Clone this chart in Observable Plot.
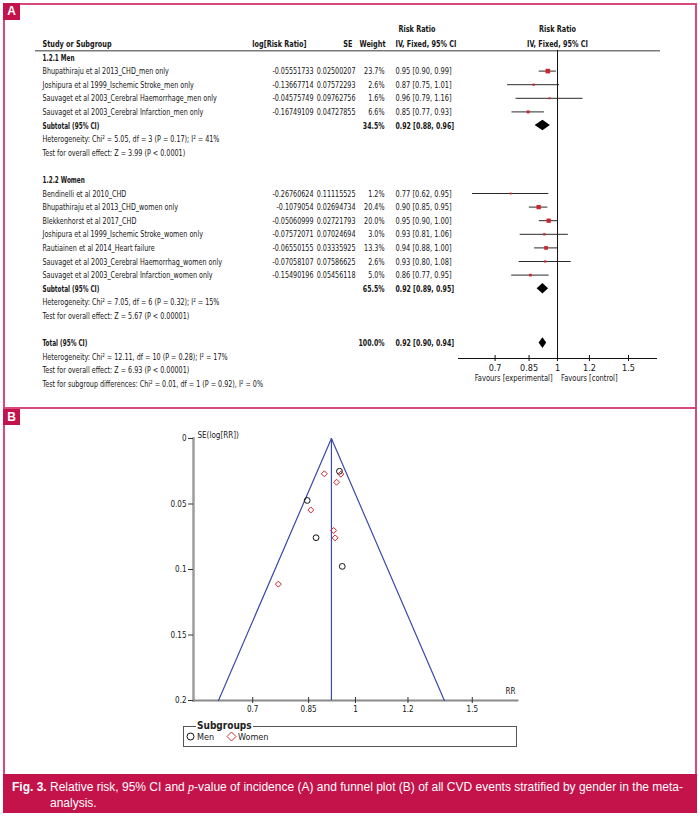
<!DOCTYPE html>
<html>
<head>
<meta charset="utf-8">
<script src="https://cdn.jsdelivr.net/npm/d3@7"></script>
<script src="https://cdn.jsdelivr.net/npm/@observablehq/plot@0.6"></script>
<style>
html,body{margin:0;padding:0;background:#fff;}
body{width:700px;height:816px;position:relative;overflow:hidden;}
#panelA,#panelB{position:absolute;left:0;}
#panelA{top:0;}
#panelB{top:408px;}
.border{position:absolute;left:3px;top:3px;width:694px;height:810px;box-sizing:border-box;border:2px solid #d6497a;}
.divider{position:absolute;left:3px;top:407px;width:694px;height:2px;background:#d6497a;}
.tag{position:absolute;left:3px;width:17px;height:17px;background:#c4124a;color:#fff;font:bold 12px "Liberation Sans",Arial,sans-serif;text-align:center;line-height:17px;}
.caption{position:absolute;left:3px;top:774px;width:694px;height:39px;background:#c4124a;color:#fff;font:12px "Liberation Sans",Arial,sans-serif;line-height:16px;}
.legend{position:absolute;left:183px;top:726px;width:334px;height:21px;box-sizing:border-box;border:1px solid #555;font:9px "DejaVu Sans Condensed",sans-serif;color:#222;}
</style>
</head>
<body>
<div id="panelA"></div>
<div id="panelB"></div>
<div class="border"></div>
<div class="divider"></div>
<div class="tag" style="top:3px">A</div>
<div class="tag" style="top:409px;height:16px;line-height:16px">B</div>
<div class="legend">
  <span style="position:absolute;left:12px;top:-7px;background:#fff;font-weight:bold;font-size:10px;padding:0 1px">Subgroups</span>
  <svg style="position:absolute;left:0;top:0" width="332" height="19">
    <circle cx="6.5" cy="9.5" r="3.5" fill="none" stroke="#111" stroke-width="1"/>
    <path d="M47.5,5 L52,9.5 L47.5,14 L43,9.5 Z" fill="none" stroke="#d2303a" stroke-width="1"/>
  </svg>
  <span style="position:absolute;left:13px;top:5px">Men</span>
  <span style="position:absolute;left:54px;top:5px">Women</span>
</div>
<div class="caption">
  <div style="position:absolute;left:9px;top:5px;font-weight:bold">Fig. 3.</div>
  <div style="position:absolute;left:47px;top:5px;width:645px">Relative risk, 95% CI and <i style="font-family:'Liberation Serif',serif">p</i>-value of incidence (A) and funnel plot (B) of all CVD events stratified by gender in the meta-<br>analysis.</div>
</div>
<script>
// ---------- DATA ----------
const groupLabels = ["1.2.1 Men", "1.2.2 Women"];

const menStudies = ["Bhupathiraju et al 2013_CHD_men only", "Joshipura et al 1999_Ischemic Stroke_men only", "Sauvaget et al 2003_Cerebral Haemorrhage_men only", "Sauvaget et al 2003_Cerebral Infarction_men only"];
const menLogRR = [-0.05551733, -0.13667714, -0.04575749, -0.16749109];
const menSE = [0.02500207, 0.07572293, 0.09762756, 0.04727855];
const menWeight = [23.7, 2.6, 1.6, 6.6];
const menCI = ["0.95 [0.90, 0.99]", "0.87 [0.75, 1.01]", "0.96 [0.79, 1.16]", "0.85 [0.77, 0.93]"];

const womenStudies = ["Bendinelli et al 2010_CHD", "Bhupathiraju et al 2013_CHD_women only", "Blekkenhorst et al 2017_CHD", "Joshipura et al 1999_Ischemic Stroke_women only", "Rautiainen et al 2014_Heart failure", "Sauvaget et al 2003_Cerebral Haemorrhag_women only", "Sauvaget et al 2003_Cerebral Infarction_women only"];
const womenLogRR = [-0.26760624, -0.1079054, -0.05060999, -0.07572071, -0.06550155, -0.07058107, -0.15490196];
const womenSE = [0.11115525, 0.02694734, 0.02721793, 0.07024694, 0.03335925, 0.07586625, 0.05456118];
const womenWeight = [1.2, 20.4, 20.0, 3.0, 13.3, 2.6, 5.0];
const womenCI = ["0.77 [0.62, 0.95]", "0.90 [0.85, 0.95]", "0.95 [0.90, 1.00]", "0.93 [0.81, 1.06]", "0.94 [0.88, 1.00]", "0.93 [0.80, 1.08]", "0.86 [0.77, 0.95]"];

const pooledLabels = ["Subtotal (95% CI)", "Subtotal (95% CI)", "Total (95% CI)"];
const pooledRR = [0.92, 0.92, 0.92];
const pooledLo = [0.88, 0.89, 0.90];
const pooledHi = [0.96, 0.95, 0.94];
const pooledWeight = ["34.5%", "65.5%", "100.0%"];
const pooledCI = ["0.92 [0.88, 0.96]", "0.92 [0.89, 0.95]", "0.92 [0.90, 0.94]"];

const menStats = ["Heterogeneity: Chi\u00B2 = 5.05, df = 3 (P = 0.17); I\u00B2 = 41%", "Test for overall effect: Z = 3.99 (P < 0.0001)"];
const womenStats = ["Heterogeneity: Chi\u00B2 = 7.05, df = 6 (P = 0.32); I\u00B2 = 15%", "Test for overall effect: Z = 5.67 (P < 0.00001)"];
const totalStats = ["Heterogeneity: Chi\u00B2 = 12.11, df = 10 (P = 0.28); I\u00B2 = 17%", "Test for overall effect: Z = 6.93 (P < 0.00001)", "Test for subgroup differences: Chi\u00B2 = 0.01, df = 1 (P = 0.92), I\u00B2 = 0%"];

const headerCols = ["Study or Subgroup", "log[Risk Ratio]", "SE", "Weight", "IV, Fixed, 95% CI", "IV, Fixed, 95% CI"];
const headerTop = ["Risk Ratio", "Risk Ratio"];
const favours = ["Favours [experimental]", "Favours [control]"];

const rrTicks = [0.7, 0.85, 1, 1.2, 1.5];
const seTicks = [0, 0.05, 0.1, 0.15, 0.2];
const funnelSE = [0, 0.2];
const subgroupNames = ["Men", "Women"];

// ---------- BUILD ROWS ----------
const FONT = '"DejaVu Sans Condensed","DejaVu Sans",sans-serif';
const RED = "#cf2430", BLUE = "#3b4ba6", INK = "#161616";

const studies = [], boldLines = [], plainLines = [], pooled = [];
let line = 0;
function group(label, names, logs, ses, ws, cis, pIdx, stats) {
  boldLines.push({i: line++, t: label});
  names.forEach((n, k) => studies.push({i: line++, name: n, log: logs[k], se: ses[k], w: ws[k], ci: cis[k]}));
  pooled.push({i: line++, k: pIdx});
  stats.forEach(s => plainLines.push({i: line++, t: s}));
  line++;
}
group(groupLabels[0], menStudies, menLogRR, menSE, menWeight, menCI, 0, menStats);
group(groupLabels[1], womenStudies, womenLogRR, womenSE, womenWeight, womenCI, 1, womenStats);
pooled.push({i: line++, k: 2});
totalStats.forEach(s => plainLines.push({i: line++, t: s}));
studies.forEach(d => { d.rr = Math.exp(d.log); d.lo = Math.exp(d.log - 1.96 * d.se); d.hi = Math.exp(d.log + 1.96 * d.se); d.wTxt = d.w.toFixed(1) + "%"; });
pooled.forEach(p => { p.label = pooledLabels[p.k]; p.rr = pooledRR[p.k]; p.lo = pooledLo[p.k]; p.hi = pooledHi[p.k]; p.wTxt = pooledWeight[p.k]; p.ci = pooledCI[p.k]; });
const diamonds = pooled.flatMap(p => [
  {z: p.i, y: p.i - 0.39, x1: p.rr, x2: p.rr},
  {z: p.i, y: p.i, x1: p.lo, x2: p.hi},
  {z: p.i, y: p.i + 0.39, x1: p.rr, x2: p.rr}
]);

// horizontal squeeze of text (about its anchor) to mimic the narrow typeface of the original
function squeeze(svg, tag, s) {
  svg.querySelectorAll(`g[aria-description="${tag}"] text`).forEach(t => {
    const tr = t.getAttribute("transform") || "";
    t.setAttribute("transform", `${tr} scale(${s},1)`);
  });
}

// ---------- PANEL A: forest plot ----------
const FL = 458, FR = 656, FT = 50, FB = 358, AH = 408;
const col = {name: 42, log: 313, se: 355, weight: 384, ci: 395};
const fs = 9.4;
const txt = (data, opts) => Plot.text(data, {frameAnchor: "left", fontSize: fs, fill: INK, ...opts});
const hdr = (t, opts) => Plot.text([t], {fontWeight: "bold", fontSize: 9.4, fill: INK, ariaDescription: "hdr", ...opts});

const plotA = Plot.plot({
  width: 700, height: AH,
  marginLeft: FL, marginRight: 700 - FR, marginTop: FT, marginBottom: AH - FB,
  style: {background: "transparent", fontFamily: FONT, color: INK},
  x: {type: "log", domain: [0.568, 1.76]},
  y: {type: "linear", domain: [0, 24], range: [57, 383.4], axis: null},
  r: {type: "sqrt", domain: [0, 24], range: [0.6, 2.6]},
  marks: [
    // header
    hdr(headerTop[0], {frameAnchor: "left", dx: col.ci - FL + 3, textAnchor: "start", y: [-2.1]}),
    hdr(headerTop[1], {frameAnchor: "middle", textAnchor: "middle", y: [-2.1]}),
    hdr(headerCols[0], {frameAnchor: "left", dx: col.name - FL, textAnchor: "start", y: [-0.97]}),
    hdr(headerCols[1], {frameAnchor: "left", dx: 306 - FL, textAnchor: "end", y: [-0.97]}),
    hdr(headerCols[2], {frameAnchor: "left", dx: 352 - FL, textAnchor: "end", y: [-0.97]}),
    hdr(headerCols[3], {frameAnchor: "left", dx: 385 - FL, textAnchor: "end", y: [-0.97]}),
    hdr(headerCols[4], {frameAnchor: "left", dx: col.ci - FL, textAnchor: "start", y: [-0.97]}),
    hdr(headerCols[5], {frameAnchor: "middle", textAnchor: "middle", y: [-0.97]}),
    Plot.ruleY([-0.5], {stroke: "#7a7a7a", strokeWidth: 1.6, insetLeft: -(FL - 35), insetRight: -4}),
    // group labels and stats
    txt(boldLines, {y: "i", text: "t", dx: col.name - FL, textAnchor: "start", fontWeight: "bold", ariaDescription: "bold"}),
    txt(plainLines, {y: "i", text: "t", dx: col.name - FL, textAnchor: "start", ariaDescription: "names"}),
    // study rows
    txt(studies, {y: "i", text: "name", dx: col.name - FL, textAnchor: "start", ariaDescription: "names"}),
    txt(studies, {y: "i", text: d => d.log.toString(), dx: col.log - FL, textAnchor: "end", ariaDescription: "nums"}),
    txt(studies, {y: "i", text: d => d.se.toString(), dx: col.se - FL, textAnchor: "end", ariaDescription: "nums"}),
    txt(studies, {y: "i", text: "wTxt", dx: col.weight - FL, textAnchor: "end", ariaDescription: "nums"}),
    txt(studies, {y: "i", text: "ci", dx: col.ci - FL, textAnchor: "start", ariaDescription: "ci"}),
    // pooled rows
    txt(pooled, {y: "i", text: "label", dx: col.name - FL, textAnchor: "start", fontWeight: "bold", ariaDescription: "bold"}),
    txt(pooled, {y: "i", text: "wTxt", dx: col.weight - FL, textAnchor: "end", fontWeight: "bold", ariaDescription: "boldnum"}),
    txt(pooled, {y: "i", text: "ci", dx: col.ci - FL, textAnchor: "start", fontWeight: "bold", ariaDescription: "boldnum"}),
    // graph
    Plot.ruleX([1], {stroke: "#111", strokeWidth: 1}),
    Plot.ruleY(studies, {y: "i", x1: "lo", x2: "hi", stroke: "#2a2a2a", strokeWidth: 1}),
    Plot.dot(studies, {x: "rr", y: "i", r: "w", symbol: "square", fill: RED, stroke: null}),
    Plot.areaX(diamonds, {y: "y", x1: "x1", x2: "x2", z: "z", fill: "#000", curve: "linear"}),
    Plot.frame({anchor: "bottom", stroke: "#111", strokeWidth: 1}),
    Plot.ruleX(rrTicks, {insetTop: FB - FT - 3, stroke: "#111"}),
    Plot.axisX({ticks: rrTicks, tickFormat: d => String(d), tickSize: 3, tickPadding: 3, fontSize: 9, label: null, stroke: "#111", fill: INK}),
    Plot.text([{x: 1, t: favours[0]}], {x: "x", text: "t", frameAnchor: "bottom", dy: 22, dx: -5, textAnchor: "end", fontSize: 8.6, fill: INK, ariaDescription: "fav"}),
    Plot.text([{x: 1, t: favours[1]}], {x: "x", text: "t", frameAnchor: "bottom", dy: 22, dx: 3.5, textAnchor: "start", fontSize: 8.6, fill: INK, ariaDescription: "fav"})
  ]
});
document.getElementById("panelA").appendChild(plotA);
squeeze(plotA, "names", 0.76);
squeeze(plotA, "nums", 0.76);
squeeze(plotA, "ci", 0.79);
squeeze(plotA, "bold", 0.68);
squeeze(plotA, "boldnum", 0.74);
squeeze(plotA, "hdr", 0.77);
squeeze(plotA, "fav", 0.87);

// ---------- PANEL B: funnel plot ----------
const BH = 362, BT = 30, BB = 70;
const pooledTotal = pooledRR[2];
const funnel = [-1, 1].flatMap(s => funnelSE.map(se => ({side: s, se, rr: Math.exp(Math.log(pooledTotal) + s * 1.96 * se)})));
const menPts = menLogRR.map((l, k) => ({rr: Math.exp(l), se: menSE[k], g: subgroupNames[0]}));
const womenPts = womenLogRR.map((l, k) => ({rr: Math.exp(l), se: womenSE[k], g: subgroupNames[1]}));

const plotB = Plot.plot({
  width: 700, height: BH,
  marginLeft: 193, marginRight: 183, marginTop: BT, marginBottom: BB,
  style: {background: "transparent", fontFamily: FONT, color: INK},
  x: {type: "log", domain: [0.57, 1.755]},
  y: {type: "linear", domain: [0, 0.2], reverse: true},
  marks: [
    Plot.frame({anchor: "left", stroke: "#9c9c9c", strokeWidth: 2.5}),
    Plot.frame({anchor: "bottom", stroke: "#8a8a8a", strokeWidth: 2}),
    Plot.axisY({ticks: seTicks, tickFormat: d => String(d), tickSize: 5, tickPadding: 2, fontSize: 8, label: null, stroke: "#333", fill: INK}),
    Plot.axisX({ticks: rrTicks, tickFormat: d => String(d), tickSize: 3, tickPadding: 3, fontSize: 8, label: null, stroke: "#333", fill: INK}),
    Plot.ruleX(rrTicks, {insetTop: BH - BT - BB - 3, stroke: "#333"}),
    Plot.ruleX([pooledTotal], {stroke: BLUE, strokeWidth: 1.2}),
    Plot.line(funnel, {x: "rr", y: "se", z: "side", stroke: BLUE, strokeWidth: 1.2}),
    Plot.dot(menPts, {x: "rr", y: "se", r: 2.9, symbol: "circle", stroke: "#111", strokeWidth: 1}),
    Plot.dot(womenPts, {x: "rr", y: "se", r: 2.7, symbol: "diamond2", stroke: RED, strokeWidth: 1}),
    Plot.text(["SE(log[RR])"], {frameAnchor: "top-left", dx: 4, dy: -6, textAnchor: "start", fontSize: 8, fill: INK}),
    Plot.text(["RR"], {frameAnchor: "bottom-right", dx: -2, dy: -7, textAnchor: "end", fontSize: 8, fill: INK})
  ]
});
document.getElementById("panelB").appendChild(plotB);
</script>
</body>
</html>
